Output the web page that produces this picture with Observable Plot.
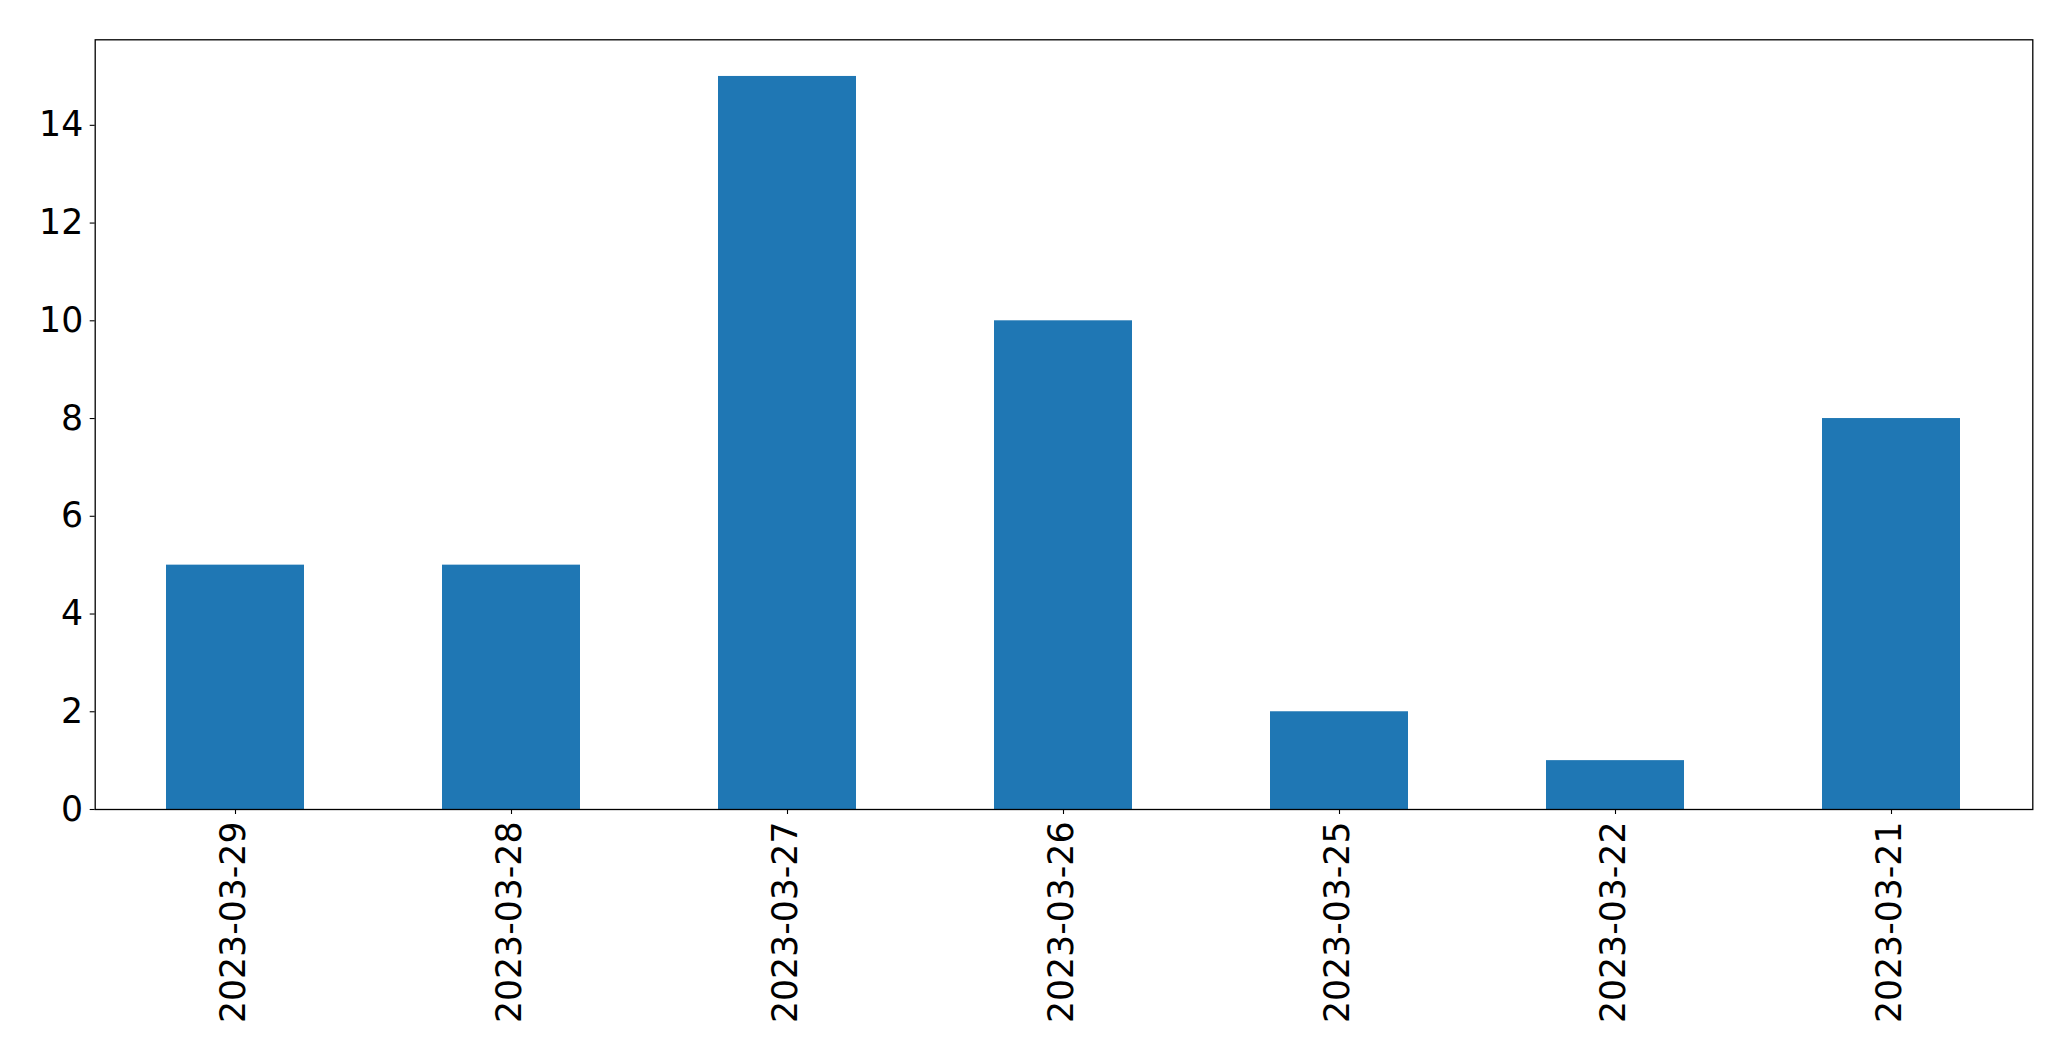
<!DOCTYPE html>
<html>
<head>
<meta charset="utf-8">
<script src="https://cdn.jsdelivr.net/npm/d3@7"></script>
<script src="https://cdn.jsdelivr.net/npm/@observablehq/plot@0.6"></script>
<style>
  html, body { margin: 0; padding: 0; background: #fff; overflow: hidden; }
  #chart svg { display: block; }
</style>
</head>
<body>
<div id="chart"></div>
<script>
const dates = ["2023-03-29", "2023-03-28", "2023-03-27", "2023-03-26", "2023-03-25", "2023-03-22", "2023-03-21"];
const counts = [5, 5, 15, 10, 2, 1, 8];
const yTicks = [0, 2, 4, 6, 8, 10, 12, 14];

const data = dates.map((d, i) => ({date: d, count: counts[i]}));

const W = 2071, H = 1061;
const fontSize = 34.7;

const chart = Plot.plot({
  width: W,
  height: H,
  marginLeft: 94.7,
  marginRight: 38.7,
  marginTop: 39.3,
  marginBottom: 252,
  style: {fontFamily: "DejaVu Sans", fontSize: fontSize + "px", color: "#000", background: "#fff"},
  x: {domain: dates, paddingInner: 0.5, paddingOuter: 0.25, label: null},
  y: {domain: [0, 15.75], label: null},
  marks: [
    Plot.barY(data, {x: "date", y: "count", fill: "#1f77b4"}),
    Plot.frame({stroke: "#000", strokeWidth: 1.3}),
    Plot.axisY({ticks: yTicks, tickSize: 5, tickPadding: 7, tickFormat: d => String(d), fontSize: fontSize, label: null, strokeWidth: 1.1}),
    Plot.axisX({tickSize: 5, text: null, label: null, strokeWidth: 1.1}),
    Plot.axisX({tickSize: 0, tickPadding: 12, tickRotate: -90, fontSize: fontSize, label: null, dx: -2})
  ]
});
document.getElementById("chart").appendChild(chart);
</script>
</body>
</html>
